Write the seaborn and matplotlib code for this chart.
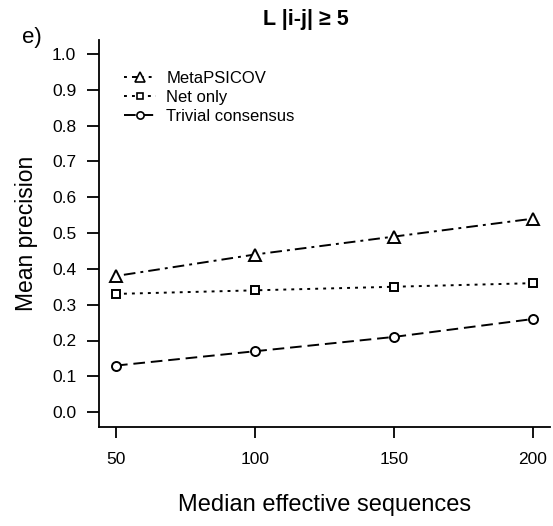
import matplotlib
matplotlib.use("Agg")
import matplotlib.pyplot as plt
from matplotlib.lines import Line2D
import seaborn as sns
import pandas as pd

# ---- data ----
median_eff_seqs = [50, 100, 150, 200]
metapsicov = [0.38, 0.44, 0.49, 0.54]
net_only = [0.33, 0.34, 0.35, 0.36]
trivial_consensus = [0.13, 0.17, 0.21, 0.26]
series_names = ["MetaPSICOV", "Net only", "Trivial consensus"]
x_ticks = [50, 100, 150, 200]
y_ticks = [0.0, 0.1, 0.2, 0.3, 0.4, 0.5, 0.6, 0.7, 0.8, 0.9, 1.0]

sns.set_style("white")
plt.rcParams["font.family"] = ["Liberation Sans", "DejaVu Sans"]
plt.rcParams["text.color"] = "black"
plt.rcParams["axes.labelcolor"] = "black"

fig = plt.figure(figsize=(5.53, 5.26), dpi=100)
ax = fig.add_axes([99.3 / 553, (526 - 426.5) / 526, 450.4 / 553, 387 / 526])

styles = {
    "MetaPSICOV": dict(marker="^", ms=8.5, dashes=(1.5, 2.6, 6.0, 2.6)),
    "Net only": dict(marker="s", ms=5.8, dashes=(1.5, 2.6)),
    "Trivial consensus": dict(marker="o", ms=6.5, dashes=(6.0, 3.0)),
}
values = [metapsicov, net_only, trivial_consensus]

handles = []
for name, vals in zip(series_names, values):
    df = pd.DataFrame({"x": median_eff_seqs, "y": vals})
    st = styles[name]
    sns.lineplot(data=df, x="x", y="y", ax=ax, color="black", linewidth=1.4,
                 marker=st["marker"], markersize=st["ms"],
                 markerfacecolor="white", markeredgecolor="black",
                 markeredgewidth=1.4)
    line = ax.lines[-1]
    line.set_dashes(st["dashes"])
    h = Line2D([], [], color="black", linewidth=1.4, marker=st["marker"],
               markersize=st["ms"] * 0.8, markerfacecolor="white",
               markeredgecolor="black", markeredgewidth=1.2)
    h.set_dashes(st["dashes"])
    handles.append(h)

ax.set_xlim(44, 206)
ax.set_ylim(-0.04, 1.04)
ax.set_xticks(x_ticks)
ax.set_xticklabels([str(v) for v in x_ticks])
ax.set_yticks(y_ticks)
ax.set_yticklabels([f"{v:.1f}" for v in y_ticks])

for s in ["top", "right"]:
    ax.spines[s].set_visible(False)
for s in ["left", "bottom"]:
    ax.spines[s].set_color("black")
    ax.spines[s].set_linewidth(1.3)

ax.tick_params(axis="y", direction="out", length=8.6, width=1.3, pad=8,
               labelsize=12.5, colors="black", left=True)
ax.tick_params(axis="x", direction="out", length=8, width=1.3, pad=10,
               labelsize=12.5, colors="black", bottom=True)
ax.grid(False)

ax.set_xlabel("Median effective sequences", fontsize=17, labelpad=20)
ax.set_ylabel("Mean precision", fontsize=16.5, labelpad=10)

fig.text(306 / 553, 1 - 20 / 526, "L |i-j| \u2265 5", fontsize=15.5,
         fontweight="bold", ha="center", va="center")
fig.text(0.04, 1 - 38 / 526, "e)", fontsize=16, ha="left", va="center")

leg = ax.legend(handles, series_names, loc="upper left",
                bbox_to_anchor=(0.03, 0.95), frameon=False, fontsize=12,
                handlelength=1.9, handletextpad=0.6, labelspacing=0.25,
                borderaxespad=0.3)

fig.savefig("out.png", dpi=100)
